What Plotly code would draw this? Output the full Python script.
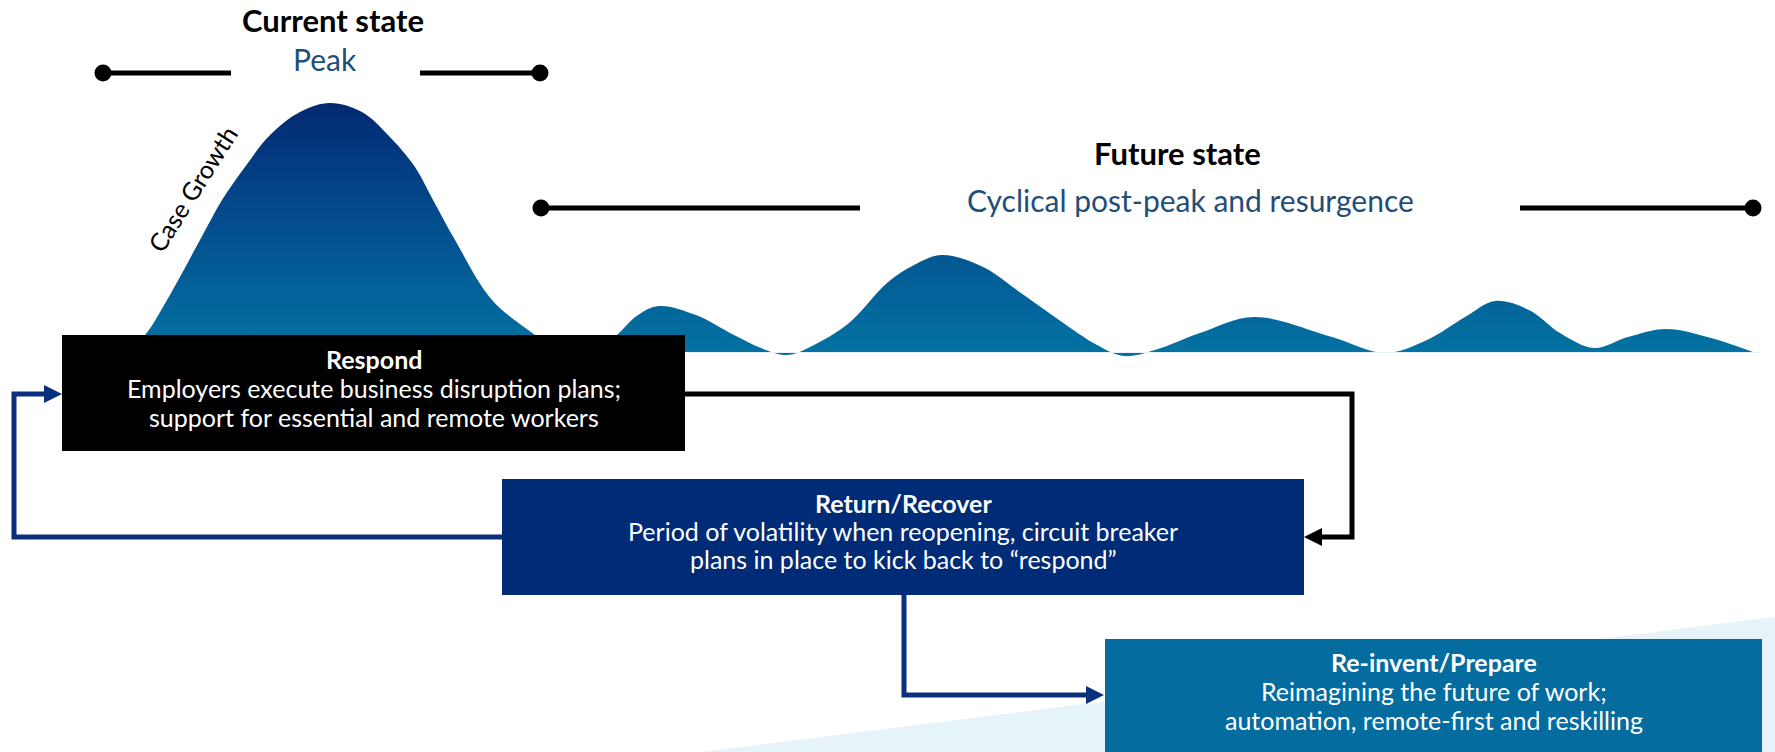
import plotly.graph_objects as go

# ---------------- data (pixel-space coordinates) ----------------
hump_x = [125, 145, 167, 200, 222, 245, 270, 300, 330, 362, 388, 415, 433, 455, 492, 535, 557]
hump_y = [352, 335, 300, 240, 200, 167, 135, 112, 103, 112, 135, 167, 200, 240, 300, 335, 352]

wave_x = [598, 617, 638, 659, 696, 734, 761, 787, 810, 849, 887, 914, 942, 983, 1021, 1059,
          1097, 1124, 1155, 1200, 1254, 1332, 1385, 1427, 1465, 1495, 1529, 1560, 1594, 1628,
          1666, 1711, 1753]
wave_y = [352, 335, 315, 306, 315, 335, 348, 355, 347, 323, 283, 265, 255, 267, 293, 320,
          345, 356, 350, 333, 317, 337, 353, 340, 317, 301, 310, 333, 348, 337,
          329, 338, 352]

state_titles = ["Current state", "Future state"]
state_subtitles = ["Peak", "Cyclical post-peak and resurgence"]
curve_label = "Case Growth"

box_titles = ["Respond", "Return/Recover", "Re-invent/Prepare"]
box_lines = [
    ["Employers execute business disruption plans;", "support for essential and remote workers"],
    ["Period of volatility when reopening, circuit breaker", "plans in place to kick back to \u201crespond\u201d"],
    ["Reimagining the future of work;", "automation, remote-first and reskilling"],
]

# ---------------- geometry & style ----------------
W, H = 1775, 752
FONT = "Lato"
BASE_Y = 352
GRAD_TOP, GRAD_BOT = 103, 352
grad_scale = [[0, "#022a72"], [0.5, "#034f8f"], [1, "#0472a2"]]

boxes = [  # x0, y0, x1, y1, colour
    (62, 335, 685, 451, "#000000"),
    (502, 479, 1304, 595, "#002b77"),
    (1105, 639, 1762, 760, "#046c9f"),
]
box_text_y = [(359, 388, 417), (503, 531, 559), (662, 691, 720)]

NAVY = "#0a2f7c"

fig = go.Figure()

# light background wedge
fig.add_trace(go.Scatter(x=[702, 1775, 1775, 702], y=[752, 617, 760, 760], fill="toself",
                         fillcolor="#e6f4fa", line=dict(width=0), mode="lines", hoverinfo="skip"))

# main hump
fig.add_trace(go.Scatter(x=hump_x, y=hump_y, mode="lines", line=dict(width=0, shape="spline", smoothing=1.0),
                         fill="toself",
                         fillgradient=dict(type="vertical", colorscale=grad_scale, start=GRAD_TOP, stop=GRAD_BOT),
                         hoverinfo="skip"))
# waves
fig.add_trace(go.Scatter(x=wave_x, y=wave_y, mode="lines", line=dict(width=0, shape="spline", smoothing=1.0),
                         fill="toself",
                         fillgradient=dict(type="vertical", colorscale=grad_scale, start=GRAD_TOP, stop=GRAD_BOT),
                         hoverinfo="skip"))
# thin light baseline through the troughs
fig.add_trace(go.Scatter(x=[685, 1760], y=[BASE_Y + 0.5, BASE_Y + 0.5], mode="lines",
                         line=dict(width=1.2, color="#e8f2f8"), hoverinfo="skip"))

# state bracket lines with end dots
brackets = [((103, 231), (420, 540), 73), ((541, 860), (1520, 1753), 208)]
for (l0, l1), (r0, r1), yy in brackets:
    for a, b in ((l0, l1), (r0, r1)):
        fig.add_trace(go.Scatter(x=[a, b], y=[yy, yy], mode="lines", line=dict(width=5, color="black"),
                                 hoverinfo="skip"))
    fig.add_trace(go.Scatter(x=[l0, r1], y=[yy, yy], mode="markers",
                             marker=dict(size=17, color="black"), hoverinfo="skip"))

# boxes
for x0, y0, x1, y1, c in boxes:
    fig.add_trace(go.Scatter(x=[x0, x1, x1, x0], y=[y0, y0, y1, y1], fill="toself", fillcolor=c,
                             mode="lines", line=dict(width=0), hoverinfo="skip"))

# connectors
def connector(xs, ys, color, tip, direction):
    fig.add_trace(go.Scatter(x=xs, y=ys, mode="lines", line=dict(width=5, color=color),
                             hoverinfo="skip"))
    tx, ty = tip
    if direction == "right":
        tri_x, tri_y = [tx, tx - 18, tx - 18, tx], [ty, ty - 9, ty + 9, ty]
    else:
        tri_x, tri_y = [tx, tx + 18, tx + 18, tx], [ty, ty - 9, ty + 9, ty]
    fig.add_trace(go.Scatter(x=tri_x, y=tri_y, fill="toself", fillcolor=color, mode="lines",
                             line=dict(width=0, color=color), hoverinfo="skip"))

connector([685, 1352, 1352, 1318], [394, 394, 537, 537], "black", (1304, 537), "left")
connector([502, 14, 14, 48], [537, 537, 394, 394], NAVY, (62, 394), "right")
connector([904, 904, 1090], [595, 695, 695], NAVY, (1104, 695), "right")

# ---------------- text ----------------
ann = []
title_pos = [(333, 20), (1177, 153)]
sub_pos = [(325, 59), (1190, 200)]
for t, s, (tx, ty), (sx, sy) in zip(state_titles, state_subtitles, title_pos, sub_pos):
    ann.append(dict(x=tx, y=ty, text=f"<b>{t}</b>", font=dict(family=FONT, size=31, color="black")))
    ann.append(dict(x=sx, y=sy, text=s, font=dict(family=FONT, size=30, color="#1f4e79")))

ann.append(dict(x=192, y=189, text=curve_label, textangle=-57.6,
                font=dict(family=FONT, size=25, color="black")))

for (x0, y0, x1, y1, c), title, lines, ys in zip(boxes, box_titles, box_lines, box_text_y):
    cx = (x0 + x1) / 2
    ann.append(dict(x=cx, y=ys[0], text=f"<b>{title}</b>", font=dict(family=FONT, size=25, color="white")))
    for line, yy in zip(lines, ys[1:]):
        ann.append(dict(x=cx, y=yy, text=line, font=dict(family=FONT, size=25, color="white")))

for a in ann:
    a.update(xref="x", yref="y", showarrow=False, xanchor="center", yanchor="middle")

fig.update_layout(
    width=W, height=H, margin=dict(l=0, r=0, t=0, b=0),
    paper_bgcolor="white", plot_bgcolor="white", showlegend=False,
    xaxis=dict(range=[0, W], visible=False, fixedrange=True),
    yaxis=dict(range=[H, 0], visible=False, fixedrange=True),
    annotations=ann,
)

fig.write_html("out.html")
